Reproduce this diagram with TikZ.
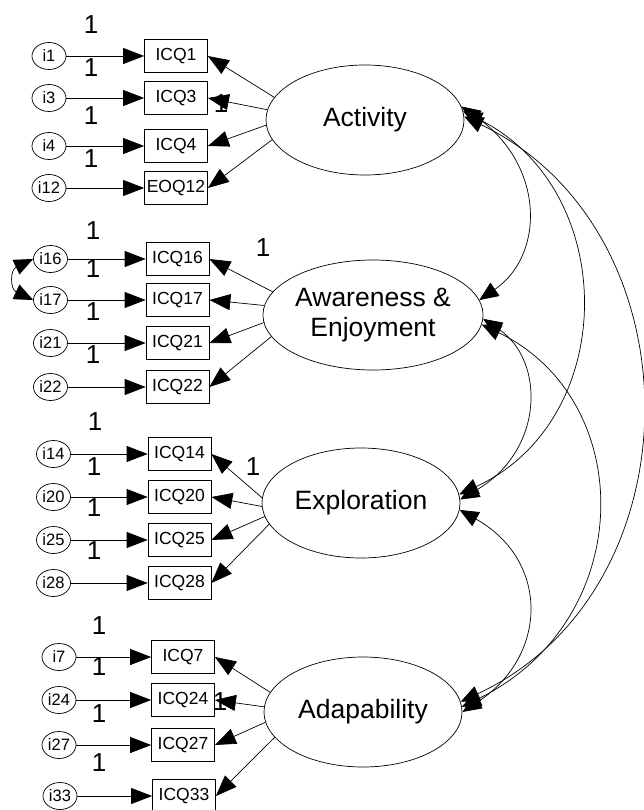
\documentclass[tikz,border=0pt]{standalone}
\usepackage{fontspec}
\setmainfont{Liberation Sans}
\usetikzlibrary{shapes.geometric,arrows.meta}

\begin{document}
\begin{tikzpicture}[x=1pt,y=-1pt,
  err/.style={draw, ellipse, minimum width=34pt, minimum height=27pt, inner sep=0pt,
    line width=0.7pt, font=\fontsize{16.5}{18}\selectfont},
  obs/.style={draw, rectangle, minimum width=63pt, minimum height=33pt, inner sep=0pt,
    line width=0.7pt, font=\fontsize{17.5}{20}\selectfont},
  lat/.style={draw, ellipse, minimum width=198pt, minimum height=110pt, inner sep=0pt,
    line width=0.7pt, align=center, font=\fontsize{26.5}{30}\selectfont},
  one/.style={inner sep=0pt, font=\fontsize{26}{26}\selectfont},
  reg/.style={line width=0.7pt, -{Triangle[length=21pt,width=16pt]}},
  cov/.style={line width=0.7pt,
    {Triangle[length=19pt,width=16pt]}-{Triangle[length=19pt,width=16pt]}},
]
\useasboundingbox (0,0) rectangle (644,810);

% ---------- latent factors ----------
\node[lat] (A) at (365,120) {Activity};
\node[lat] (W) at (373,315) {Awareness \&\\Enjoyment};
\node[lat] (E) at (361,503) {Exploration};
\node[lat] (D) at (363,712) {Adapability};

% ---------- Activity block ----------
\node[err] (i1)  at (49,56)  {i1};
\node[err] (i3)  at (49,98)  {i3};
\node[err] (i4)  at (49,146) {i4};
\node[err] (i12) at (49,188) {i12};
\node[obs] (q1)  at (176,56)  {ICQ1};
\node[obs] (q3)  at (176,98)  {ICQ3};
\node[obs] (q4)  at (176,146) {ICQ4};
\node[obs] (q12) at (176,188) {EOQ12};
\node[one] (o1)  at (91,25)  {1};
\node[one] (o3)  at (91,68)  {1};
\node[one] (o4)  at (91,116) {1};
\node[one] (o12) at (91,159) {1};
\node[one] (oA)  at (221,104) {1};

% ---------- Awareness & Enjoyment block ----------
\node[err] (i16) at (50.5,259) {i16};
\node[err] (i17) at (50.5,300) {i17};
\node[err] (i21) at (50.5,343) {i21};
\node[err] (i22) at (50.5,387) {i22};
\node[obs] (q16) at (177.5,259) {ICQ16};
\node[obs] (q17) at (177.5,300) {ICQ17};
\node[obs] (q21) at (177.5,343) {ICQ21};
\node[obs] (q22) at (177.5,387) {ICQ22};
\node[one] (o16) at (93,231) {1};
\node[one] (o17) at (93,269) {1};
\node[one] (o21) at (93,312) {1};
\node[one] (o22) at (93,355) {1};
\node[one] (oW)  at (263,248) {1};

% ---------- Exploration block ----------
\node[err] (i14) at (53.5,454) {i14};
\node[err] (i20) at (53.5,497) {i20};
\node[err] (i25) at (53.5,540) {i25};
\node[err] (i28) at (53.5,583) {i28};
\node[obs] (q14) at (179.5,454) {ICQ14};
\node[obs] (q20) at (179.5,497) {ICQ20};
\node[obs] (q25) at (179.5,540) {ICQ25};
\node[obs] (q28) at (179.5,583) {ICQ28};
\node[one] (o14) at (95,422) {1};
\node[one] (o20) at (94,467) {1};
\node[one] (o25) at (94,508) {1};
\node[one] (o28) at (94,551) {1};
\node[one] (oE)  at (253,467) {1};

% ---------- Adapability block ----------
\node[err] (i7)  at (59,657) {i7};
\node[err] (i24) at (59,700) {i24};
\node[err] (i27) at (59,745) {i27};
\node[err] (i33) at (60,796) {i33};
\node[obs] (q7)  at (183,657) {ICQ7};
\node[obs] (q24) at (183,700) {ICQ24};
\node[obs] (q27) at (183,745) {ICQ27};
\node[obs] (q33) at (184,796) {ICQ33};
\node[one] (o7)  at (99,626) {1};
\node[one] (o24) at (99,667) {1};
\node[one] (o27) at (99,714) {1};
\node[one] (o33) at (99,763) {1};
\node[one] (oD)  at (220,702) {1};

% ---------- error terms to indicators ----------
\foreach \e/\q in {i1/q1,i3/q3,i4/q4,i12/q12,i16/q16,i17/q17,i21/q21,i22/q22,
                   i14/q14,i20/q20,i25/q25,i28/q28,i7/q7,i24/q24,i27/q27,i33/q33}
  \draw[reg] (\e.east) -- (\q.west);

% ---------- factor loadings ----------
\draw[reg] (A.166) -- (q1.east);
\draw[reg] (A.174) -- (q3.east);
\draw[reg] (A.183) -- (q4.east);
\draw[reg] (A.192) -- (q12.east);

\draw[reg] (W.167) -- (q16.east);
\draw[reg] (W.175) -- (q17.east);
\draw[reg] (W.184) -- (q21.east);
\draw[reg] (W.192) -- (q22.east);

\draw[reg] (E.177) -- (q14.east);
\draw[reg] (E.182) -- (q20.east);
\draw[reg] (E.188) -- (q25.east);
\draw[reg] (E.193) -- (q28.east);

\draw[reg] (D.168) -- (q7.east);
\draw[reg] (D.177) -- (q24.east);
\draw[reg] (D.186) -- (q27.east);
\draw[reg] (D.196) -- (q33.east);

% ---------- correlated errors ----------
\draw[cov] (i16.west) .. controls (10,270) and (10,289) .. (i17.west);

% ---------- factor covariances ----------
\draw[cov] (A.8) .. controls (545,165) and (545,255) .. (W.8);
\draw[cov] (A.5) .. controls (620,190) and (620,420) .. (E.5);
\draw[cov] (A.2) .. controls (700,230) and (700,590) .. (D.6);
\draw[cov] (W.-2) .. controls (545,360) and (545,450) .. (E.2);
\draw[cov] (W.-5) .. controls (638,400) and (638,620) .. (D.3);
\draw[cov] (E.-4) .. controls (549,560) and (549,655) .. (D.0);
\end{tikzpicture}
\end{document}
